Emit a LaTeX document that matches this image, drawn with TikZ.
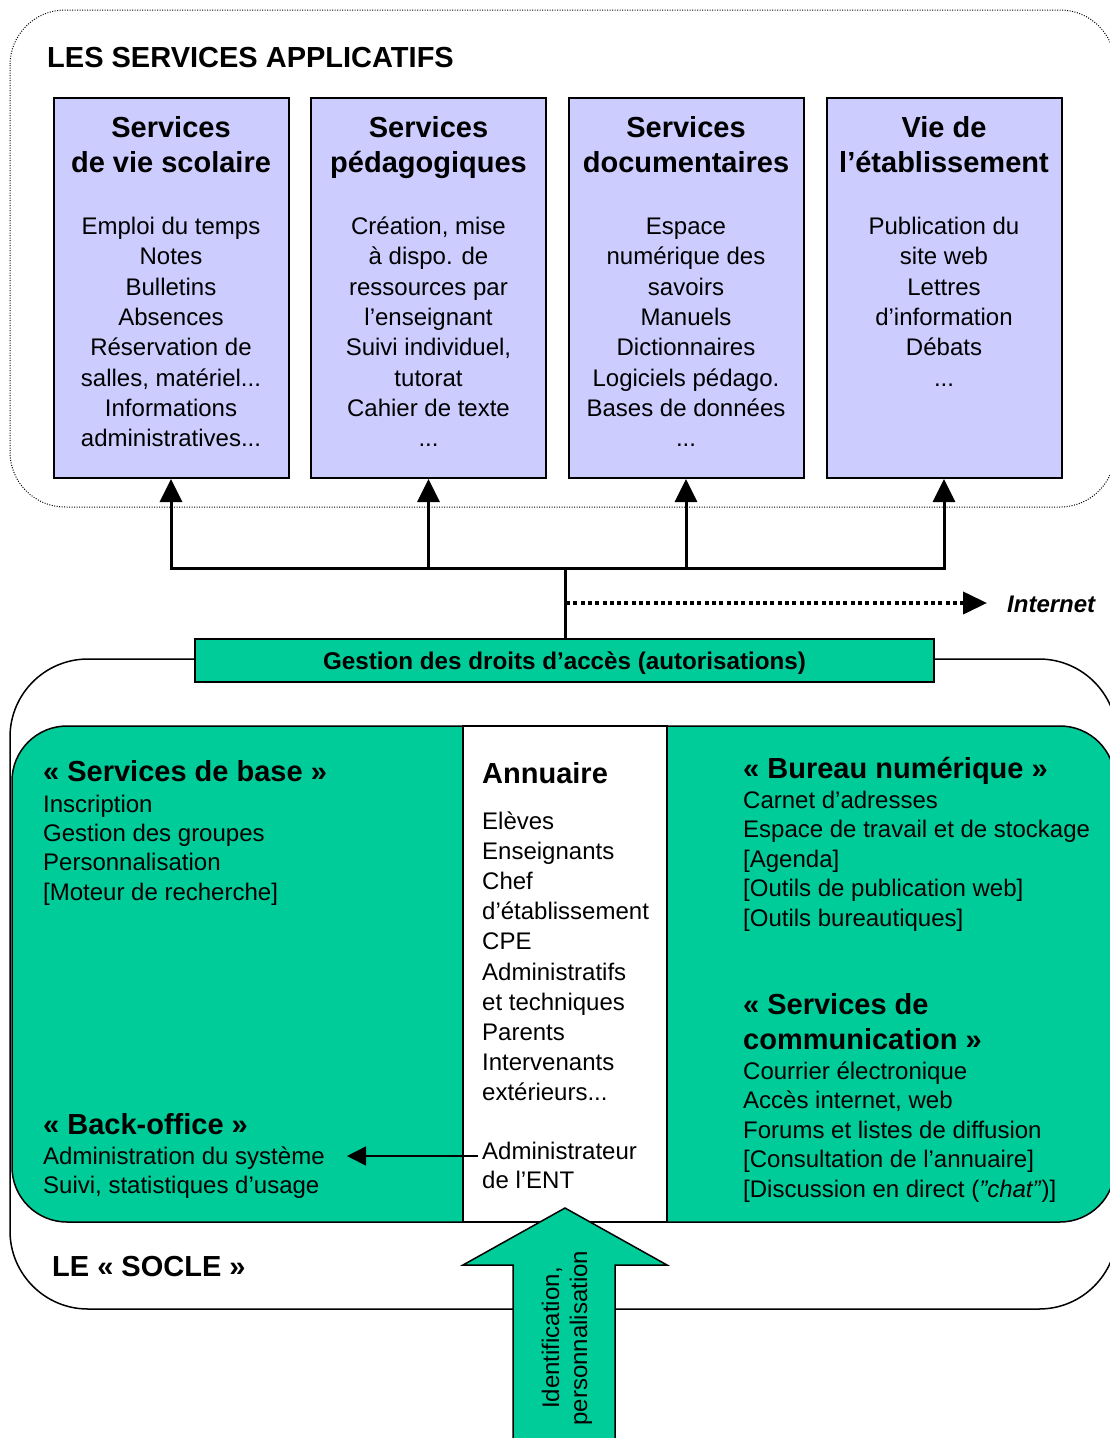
\documentclass[tikz,border=0pt]{standalone}
\usepackage{fontspec}
\setmainfont{Liberation Sans}
\usetikzlibrary{arrows.meta}
\definecolor{svcblue}{HTML}{CCCCFF}
\definecolor{entgreen}{HTML}{00CC99}
\newcommand{\stk}[2]{\begin{tabular}[t]{@{}#1@{}}#2\end{tabular}}
\begin{document}
\begin{tikzpicture}[x=1pt,y=-1pt,
  svcbox/.style={draw=black, line width=2pt, fill=svcblue, minimum width=235pt, minimum height=380pt, inner sep=0pt},
  ttl/.style={inner sep=0pt, font=\fontsize{29}{35}\selectfont\bfseries},
  bdy/.style={inner sep=0pt, font=\fontsize{24}{30.3}\selectfont},
  bdyl/.style={inner sep=0pt, font=\fontsize{24}{29.4}\selectfont},
  busarrow/.style={line width=3pt, -{Triangle[length=23pt,width=22pt]}},
  frame/.style={line width=1.5pt},
]
\useasboundingbox (0,0) rectangle (1110,1438);
\clip (0,0) rectangle (1110,1438);

% ---------- top frame ----------
\draw[line width=1pt, dash pattern=on 1pt off 1.5pt, rounded corners=55pt] (10,10) rectangle (1115,507);
\node[ttl, anchor=base west] (apptitle) at (47,67) {LES SERVICES APPLICATIFS};

% service boxes
\node[svcbox] (b1) at (171,288) {};
\node[svcbox] (b2) at (428.5,288) {};
\node[svcbox] (b3) at (686,288) {};
\node[svcbox] (b4) at (944,288) {};

\node[ttl, anchor=base] (t1) at (171,137) {\stk{c}{Services\\de vie scolaire}};
\node[ttl, anchor=base] (t2) at (428.5,137) {\stk{c}{Services\\pédagogiques}};
\node[ttl, anchor=base] (t3) at (686,137) {\stk{c}{Services\\documentaires}};
\node[ttl, anchor=base] (t4) at (944,137) {\stk{c}{Vie de\\l’établissement}};

\node[bdy, anchor=base] (d1) at (171,234.5) {\stk{c}{Emploi du temps\\Notes\\Bulletins\\Absences\\Réservation de\\salles, matériel...\\Informations\\administratives...}};
\node[bdy, anchor=base] (d2) at (428.5,234.5) {\stk{c}{Création, mise\\à dispo. de\\ressources par\\l’enseignant\\Suivi individuel,\\tutorat\\Cahier de texte\\...}};
\node[bdy, anchor=base] (d3) at (686,234.5) {\stk{c}{Espace\\numérique des\\savoirs\\Manuels\\Dictionnaires\\Logiciels pédago.\\Bases de données\\...}};
\node[bdy, anchor=base] (d4) at (944,234.5) {\stk{c}{Publication du\\site web\\Lettres\\d’information\\Débats\\...}};

% ---------- socle frame ----------
\draw[frame, rounded corners=78pt] (10,659) rectangle (1117,1309);
\draw[frame, fill=entgreen, rounded corners=55pt] (12,726) rectangle (1115,1222);
\node[draw, frame, fill=white, minimum width=204pt, minimum height=496pt, inner sep=0pt] (ann) at (565,974) {};

% access bar
\node[draw, frame, fill=entgreen, minimum width=739pt, minimum height=43pt, inner sep=0pt, text depth=0pt,
      font=\fontsize{24.2}{28}\selectfont\bfseries] (acc) at (564.5,660.5) {Gestion des droits d’accès (autorisations)};

% bus
\coordinate (bus1) at (171,568);
\coordinate (bus2) at (428.5,568);
\coordinate (bus3) at (686,568);
\coordinate (bus4) at (944,568);
\coordinate (busm) at (565,568);
\draw[line width=3pt, line cap=rect] (bus1) -- (bus4);
\draw[busarrow] (bus1) -- (b1.south);
\draw[busarrow] (bus2) -- (b2.south);
\draw[busarrow] (bus3) -- (b3.south);
\draw[busarrow] (bus4) -- (b4.south);
\draw[line width=3pt] (busm) -- (acc.north -| busm);

% internet
\node[anchor=base west, inner sep=0pt, font=\fontsize{24}{28}\selectfont\bfseries\itshape] (net) at (1007,612.5) {Internet};
\coordinate (netstart) at (566,603);
\coordinate (netend) at (987,603);
\draw[line width=4pt, dash pattern=on 4pt off 3.3pt, -{Triangle[length=24pt,width=22pt]}] (netstart) -- (netend);

% left texts
\node[ttl, anchor=base west] (sb) at (43,781) {« Services de base »};
\node[bdyl, anchor=base west] (sbl) at (43,812) {\stk{l}{Inscription\\Gestion des groupes\\Personnalisation\\{}[Moteur de recherche]}};
\node[ttl, anchor=base west] (bo) at (43,1134) {« Back-office »};
\node[bdyl, anchor=base west] (bol) at (43,1164.5) {\stk{l}{Administration du système\\Suivi, statistiques d’usage}};

% annuaire
\node[ttl, anchor=base west] (annt) at (482,783) {Annuaire};
\node[anchor=base west, inner sep=0pt, font=\fontsize{24}{30.1}\selectfont] (annl) at (482,829.5) {\stk{l}{Elèves\\Enseignants\\Chef\\d’établissement\\CPE\\Administratifs\\et techniques\\Parents\\Intervenants\\extérieurs...}};
\node[bdyl, anchor=base west] (adm) at (482,1159.5) {\stk{l}{Administrateur\\de l’ENT}};
\coordinate (admedge) at (478,1156);
\coordinate (botip) at (347,1156);
\draw[line width=1.5pt, -{Triangle[length=19pt,width=19pt]}] (admedge) -- (botip);

% right texts
\node[ttl, anchor=base west] (bn) at (743,778) {« Bureau numérique »};
\node[bdyl, anchor=base west] (bnl) at (743,808.5) {\stk{l}{Carnet d’adresses\\Espace de travail et de stockage\\{}[Agenda]\\{}[Outils de publication web]\\{}[Outils bureautiques]}};
\node[ttl, anchor=base west] (sc) at (743,1014) {\stk{l}{« Services de\\communication »}};
\node[bdyl, anchor=base west] (scl) at (743,1079.5) {\stk{l}{Courrier électronique\\Accès internet, web\\Forums et listes de diffusion\\{}[Consultation de l’annuaire]\\{}[Discussion en direct (\textit{"chat"})]}};

% socle label
\node[ttl, anchor=base west] (socle) at (52,1276) {LE « SOCLE »};

% identification arrow
\draw[frame, fill=entgreen] (565,1208) -- (667,1265) -- (615,1265) -- (615,1445) -- (513,1445) -- (513,1265) -- (463,1265) -- cycle;
\node[rotate=90, align=center, inner sep=0pt, font=\fontsize{24}{28}\selectfont] (ident) at (567,1338) {Identification,\\personnalisation};
\end{tikzpicture}
\end{document}
